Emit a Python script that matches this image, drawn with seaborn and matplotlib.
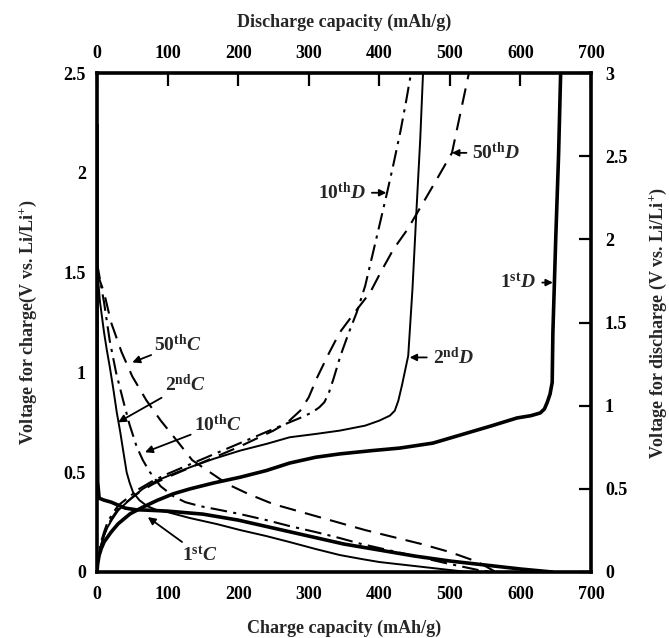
import numpy as np
import pandas as pd
import matplotlib
matplotlib.use("Agg")
import matplotlib.pyplot as plt
import seaborn as sns
from matplotlib.ticker import FuncFormatter, MultipleLocator

sns.set_theme(style="white")
plt.rcParams['font.family'] = ['Liberation Serif', 'DejaVu Serif']
plt.rcParams['font.weight'] = 'bold'
plt.rcParams['mathtext.fontset'] = 'custom'
plt.rcParams['mathtext.rm'] = 'Liberation Serif:bold'
plt.rcParams['mathtext.bf'] = 'Liberation Serif:bold'
plt.rcParams['mathtext.it'] = 'Liberation Serif:bold:italic'

# ---------------- data: charge curves (bottom x, left y) ----------------
c1_cap = [0, 0, 1, 3, 10, 20, 30, 40, 55, 70, 100, 150, 200, 250, 300, 350, 400, 450, 500, 550, 600, 630, 645]
c1_v = [2.24, 1.0, 0.45, 0.37, 0.36, 0.35, 0.335, 0.32, 0.312, 0.31, 0.305, 0.29, 0.26, 0.22, 0.18, 0.14, 0.11, 0.08, 0.055, 0.035, 0.015, 0.005, 0.0]

c2_cap = [0, 2, 4, 7, 10, 14, 18, 23, 28, 33, 37, 42, 46, 51, 60, 71, 85, 100, 132, 170, 203, 240, 273, 310, 344, 375, 400, 450, 500, 525]
c2_v = [1.55, 1.45, 1.36, 1.28, 1.2, 1.11, 1.03, 0.92, 0.80, 0.70, 0.61, 0.50, 0.45, 0.40, 0.36, 0.33, 0.31, 0.30, 0.27, 0.24, 0.21, 0.18, 0.15, 0.115, 0.085, 0.065, 0.05, 0.03, 0.01, 0.0]

c10_cap = [0, 5, 10, 18, 27, 37, 46, 56, 65, 75, 90, 108, 125, 146, 175, 203, 240, 273, 310, 344, 375, 400, 450, 500, 540, 560]
c10_v = [1.55, 1.45, 1.35, 1.16, 1.0, 0.86, 0.74, 0.63, 0.56, 0.50, 0.43, 0.38, 0.35, 0.33, 0.31, 0.29, 0.26, 0.23, 0.20, 0.17, 0.14, 0.12, 0.08, 0.04, 0.01, 0.0]

c50_cap = [0, 5, 10, 20, 35, 50, 70, 90, 115, 135, 160, 185, 215, 250, 280, 320, 380, 420, 460, 500, 540, 565]
c50_v = [1.5, 1.45, 1.4, 1.25, 1.1, 0.98, 0.86, 0.76, 0.65, 0.56, 0.50, 0.44, 0.39, 0.34, 0.31, 0.27, 0.21, 0.175, 0.14, 0.10, 0.05, 0.0]

# ---------------- data: discharge curves (top x, right y) ----------------
d1_cap = [0, 1, 3, 6, 10, 15, 20, 30, 47, 65, 85, 108, 132, 165, 203, 240, 273, 310, 344, 390, 429, 476, 528, 560, 595, 615, 628, 634, 638, 642, 645, 646, 650, 654, 657]
d1_v = [0, 0.05, 0.1, 0.14, 0.18, 0.21, 0.24, 0.29, 0.35, 0.39, 0.43, 0.47, 0.50, 0.535, 0.57, 0.61, 0.655, 0.69, 0.71, 0.73, 0.745, 0.775, 0.84, 0.88, 0.926, 0.94, 0.956, 0.98, 1.02, 1.07, 1.14, 1.44, 2.0, 2.5, 3.0]

d2_cap = [0, 2, 5, 10, 15, 22, 30, 40, 50, 65, 85, 108, 132, 165, 203, 240, 273, 310, 344, 380, 400, 415, 422, 427, 432, 437, 441, 447, 453, 458, 462]
d2_v = [0, 0.08, 0.15, 0.22, 0.27, 0.32, 0.37, 0.41, 0.45, 0.50, 0.55, 0.59, 0.63, 0.68, 0.73, 0.77, 0.81, 0.83, 0.85, 0.88, 0.91, 0.94, 0.97, 1.03, 1.12, 1.22, 1.30, 1.7, 2.2, 2.6, 3.0]

d10_cap = [0, 2, 5, 10, 15, 22, 30, 45, 60, 80, 100, 125, 150, 175, 200, 225, 250, 270, 290, 305, 315, 322, 328, 335, 345, 356, 368, 380, 390, 400, 411, 420, 430, 438, 445]
d10_v = [0, 0.09, 0.17, 0.24, 0.3, 0.35, 0.4, 0.45, 0.5, 0.55, 0.59, 0.635, 0.68, 0.725, 0.77, 0.815, 0.86, 0.895, 0.93, 0.96, 0.99, 1.02, 1.07, 1.16, 1.3, 1.43, 1.56, 1.72, 1.9, 2.08, 2.28, 2.45, 2.65, 2.83, 3.0]

d50_cap = [0, 2, 5, 10, 15, 22, 30, 45, 60, 80, 100, 125, 150, 175, 200, 225, 250, 270, 288, 300, 312, 328, 344, 365, 387, 403, 420, 440, 458, 480, 503, 512, 521, 527]
d50_v = [0, 0.08, 0.15, 0.22, 0.28, 0.33, 0.38, 0.43, 0.48, 0.53, 0.57, 0.615, 0.66, 0.705, 0.75, 0.80, 0.85, 0.90, 0.97, 1.05, 1.17, 1.31, 1.44, 1.56, 1.68, 1.81, 1.94, 2.06, 2.19, 2.35, 2.52, 2.7, 2.88, 3.0]

cap_ticks = [0, 100, 200, 300, 400, 500, 600, 700]

W, H = 669, 638
fig = plt.figure(figsize=(W / 100, H / 100), dpi=100)
rect = [97 / W, 1 - 572 / H, (591 - 97) / W, (572 - 73) / H]
ax = fig.add_axes(rect)
ax2 = fig.add_axes(rect, frameon=False)

def draw(axis, cap, v, lw, ls):
    df = pd.DataFrame({"cap": cap, "v": v})
    sns.lineplot(data=df, x="cap", y="v", ax=axis, sort=False, estimator=None,
                 color="black", lw=lw, linestyle=ls)

long_dash = (0, (8, 4.5))
dash_dot = (0, (8, 3, 1.5, 3))
draw(ax, c1_cap, c1_v, 2.6, "-")
draw(ax, c2_cap, c2_v, 1.4, "-")
draw(ax, c10_cap, c10_v, 1.5, dash_dot)
draw(ax, c50_cap, c50_v, 1.5, long_dash)
draw(ax2, d1_cap, d1_v, 2.6, "-")
draw(ax2, d2_cap, d2_v, 1.4, "-")
draw(ax2, d10_cap, d10_v, 1.5, dash_dot)
draw(ax2, d50_cap, d50_v, 1.5, long_dash)

fmt = FuncFormatter(lambda v, p: f"{v:g}")
fs = 13
for a in (ax, ax2):
    a.set_xlim(0, 700)
    a.set_xticks(cap_ticks)
    a.xaxis.set_major_formatter(fmt)
    a.yaxis.set_major_locator(MultipleLocator(0.5))
    a.yaxis.set_major_formatter(fmt)
    a.tick_params(direction="in", length=9, width=1.6, labelsize=fs, colors="black")
    a.grid(False)
    for t in a.get_xticklabels() + a.get_yticklabels():
        t.set_fontweight("bold")
ax.set_ylim(0, 2.5)
ax2.set_ylim(0, 3)
ax.tick_params(axis="x", pad=10)
ax.tick_params(axis="y", pad=8)
ax2.xaxis.tick_top()
ax2.xaxis.set_label_position("top")
ax2.yaxis.tick_right()
ax2.yaxis.set_label_position("right")
ax2.tick_params(axis="x", pad=8)
ax2.tick_params(axis="y", pad=10)
for s in ax.spines.values():
    s.set_linewidth(2.6)
    s.set_color("black")

ax.set_xlabel("Charge capacity (mAh/g)", fontsize=fs, fontweight="bold", labelpad=12)
ax.set_ylabel("Voltage for charge(V vs. Li/Li$^{+}$)", fontsize=fs, fontweight="bold", labelpad=18)
ax2.set_xlabel("Discharge capacity (mAh/g)", fontsize=fs, fontweight="bold", labelpad=13)
ax2.set_ylabel("Voltage for discharge (V vs. Li/Li$^{+}$)", fontsize=fs, fontweight="bold", labelpad=15)

ap = dict(arrowstyle="-|>", color="black", lw=1.3, mutation_scale=11, shrinkA=0, shrinkB=0)
lab_fs = 14
# charge labels (data coords of ax)
ax.annotate(r"50$^{\mathrm{th}}$$\mathit{C}$", xy=(50, 1.05), xytext=(115, 1.14), fontsize=lab_fs,
            ha="center", va="center", arrowprops=ap)
ax.annotate(r"2$^{\mathrm{nd}}$$\mathit{C}$", xy=(30, 0.75), xytext=(125, 0.94), fontsize=lab_fs,
            ha="center", va="center", arrowprops=ap)
ax.annotate(r"10$^{\mathrm{th}}$$\mathit{C}$", xy=(68, 0.60), xytext=(171, 0.74), fontsize=lab_fs,
            ha="center", va="center", arrowprops=ap)
ax.annotate(r"1$^{\mathrm{st}}$$\mathit{C}$", xy=(72, 0.275), xytext=(146, 0.085), fontsize=lab_fs,
            ha="center", va="center", arrowprops=ap)
# discharge labels (data coords of ax2)
apd = dict(arrowstyle="-|>", color="black", lw=1.3, mutation_scale=10, shrinkA=2, shrinkB=0)
ax2.annotate(r"10$^{\mathrm{th}}$$\mathit{D}$", xy=(410, 2.28), xytext=(347, 2.28), fontsize=lab_fs,
             ha="center", va="center", arrowprops=apd)
ax2.annotate(r"50$^{\mathrm{th}}$$\mathit{D}$", xy=(503, 2.52), xytext=(566, 2.52), fontsize=lab_fs,
             ha="center", va="center", arrowprops=apd)
ax2.annotate(r"2$^{\mathrm{nd}}$$\mathit{D}$", xy=(443, 1.29), xytext=(505, 1.29), fontsize=lab_fs,
             ha="center", va="center", arrowprops=apd)
ax2.annotate(r"1$^{\mathrm{st}}$$\mathit{D}$", xy=(646, 1.74), xytext=(597, 1.74), fontsize=lab_fs,
             ha="center", va="center", arrowprops=apd)

fig.savefig("out.png", dpi=100)
